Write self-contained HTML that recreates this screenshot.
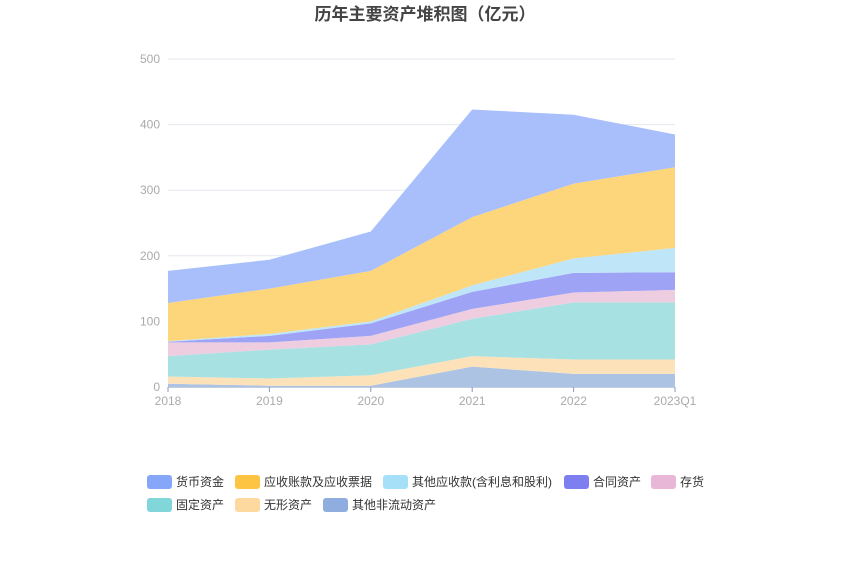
<!DOCTYPE html>
<html><head><meta charset="utf-8"><style>
body{margin:0;background:#fff;font-family:"Liberation Sans","Noto Sans CJK SC",sans-serif}
</style></head><body>
<svg id="c" width="850" height="576" style="display:block"></svg>
<script>
const categories=["2018","2019","2020","2021","2022","2023Q1"];
const seriesNames=["货币资金","应收账款及应收票据","其他应收款(含利息和股利)","合同资产","存货","固定资产","无形资产","其他非流动资产"];
const cash=[49,44,60,164,105,50];
const receivables=[58,69,77,104,114,123];
const otherRecv=[1,3,3,10,22,37];
const contract=[1,10,19,26,30,27];
const inventory=[21,11,13,15,15,19];
const fixedAssets=[31,44,47,57,87,87];
const intangible=[11,11,16,16,22,22];
const otherNonCurrent=[5,2,2,31,20,20];
const yTicks=[0,100,200,300,400,500];
const NS="http://www.w3.org/2000/svg";
const svg=document.getElementById('c');
const x0=168,x1=675,yb=387,yt=59,yMax=500;
const X=i=>x0+i*(x1-x0)/(categories.length-1);
const Y=v=>yb-v*(yb-yt)/yMax;
function mk(t,a){const e=document.createElementNS(NS,t);for(const k in a)e.setAttribute(k,a[k]);svg.appendChild(e);return e;}
const title=mk('text',{x:425,y:20,'text-anchor':'middle','font-size':17,'font-weight':'bold',fill:'#444'});
title.textContent='历年主要资产堆积图（亿元）';


yTicks.forEach(t=>{
 const g=mk('line',{x1:x0,x2:x1,y1:Y(t),y2:Y(t),stroke:t===0?'#8a9bb8':'#e3e7ef','stroke-width':1});
 
 
 const l=mk('text',{x:160,y:Y(t)+4,'text-anchor':'end','font-size':12,fill:'#aaa'});
 l.textContent=t;
 
 
});
categories.forEach((c,i)=>{
 const tk=mk('line',{x1:X(i),x2:X(i),y1:yb,y2:yb+5,stroke:'#8a9bb8'});
 
 
 const l=mk('text',{x:X(i),y:yb+18,'text-anchor':'middle','font-size':12,fill:'#aaa'});
 l.textContent=c;
 
 
});
const stack=[otherNonCurrent,intangible,fixedAssets,inventory,contract,otherRecv,receivables,cash];
const fills=['#adc3e3','#fde2b9','#a8e1e2','#eecde0','#9fa3f5','#bfe6f8','#fdd57a','#a8bffc'];
const names=['other-noncurrent','intangible','fixed-assets','inventory','contract-assets','other-receivables','receivables','cash'];
let base=categories.map(()=>0);
stack.forEach((s,k)=>{
 const top=base.map((b,i)=>b+s[i]);
 let d='M'+top.map((v,i)=>X(i)+','+Y(v)).join('L');
 for(let i=categories.length-1;i>=0;i--)d+='L'+X(i)+','+Y(base[i]);
 const p=mk('path',{d:d+'Z',fill:fills[k]});
 
 
 base=top;
});
const legendColors=['#86a6fa','#fdc444','#a6dff8','#7d7ff0','#e8b6d6','#80d6d8','#fdd9a0','#8fadde'];
const legendPos=[[147,482],[235,482],[383,482],[564,482],[651,482],[147,505],[235,505],[323,505]];
seriesNames.forEach((n,i)=>{
 const [lx,ly]=legendPos[i];
 const r=mk('rect',{x:lx,y:ly-7,width:25,height:14,rx:3,fill:legendColors[i]});
 
 
 const t=mk('text',{x:lx+29,y:ly+4,'font-size':12,fill:'#333'});
 t.textContent=n;
 
 
});
</script>
</body></html>
